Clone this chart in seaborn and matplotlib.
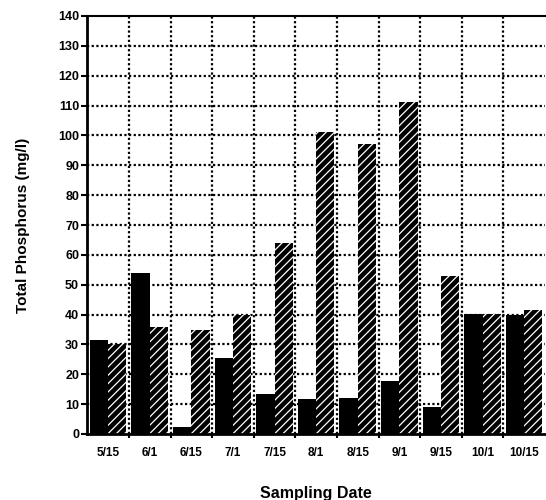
import pandas as pd
import matplotlib.pyplot as plt
import seaborn as sns

# Dados
datas = ['5/15', '6/1', '6/15', '7/1', '7/15', '8/1', '8/15', '9/1', '9/15', '10/1', '10/15']
serie_solida = [31.5, 54, 2.5, 25.5, 13.3, 11.7, 12.1, 17.6, 9.1, 40.2, 39.8]
serie_hachurada = [30, 35.7, 34.8, 39.8, 64.1, 101.3, 97, 111.3, 52.8, 40.3, 41.5]

df = pd.DataFrame({
    'Data': datas * 2,
    'Valor': serie_solida + serie_hachurada,
    'Serie': ['solida'] * len(datas) + ['hachurada'] * len(datas),
})

sns.set_style('white')
plt.rcParams['font.family'] = ['Liberation Sans', 'DejaVu Sans']
plt.rcParams['hatch.linewidth'] = 0.9
plt.rcParams['text.color'] = 'black'
plt.rcParams['axes.labelcolor'] = 'black'

fig = plt.figure(figsize=(5.46, 5.0), dpi=100)
ax = fig.add_axes([0.16, 0.132, 0.838, 0.836])

sns.barplot(data=df, x='Data', y='Valor', hue='Serie', order=datas,
            hue_order=['solida', 'hachurada'], palette=['black', 'black'],
            width=0.88, saturation=1, legend=False, ax=ax)

n = len(datas)
for i, p in enumerate(ax.patches):
    p.set_linewidth(0)
    if i >= n:
        p.set_hatch('////')
        p.set_edgecolor('white')

# Eixos e grade
ax.set_ylim(0, 140)
ax.set_xlim(-0.5, n - 0.5)
ax.set_yticks(range(0, 141, 10))
ax.set_xticks(range(n))
ax.set_xticklabels(datas)
ax.set_xticks([i - 0.5 for i in range(1, n)], minor=True)

ax.grid(False)
ax.set_axisbelow(True)
for y in range(10, 140, 10):
    ax.axhline(y, color='black', linestyle=(0, (1, 1.1)), linewidth=1.6, zorder=0)
for x in range(1, n):
    ax.axvline(x - 0.5, color='black', linestyle=(0, (1, 1.1)), linewidth=1.6, zorder=0)

for s in ['left', 'bottom']:
    ax.spines[s].set_linewidth(2)
    ax.spines[s].set_color('black')
ax.spines['top'].set_linewidth(1.5)
ax.spines['top'].set_color('black')
ax.spines['right'].set_visible(False)

ax.tick_params(axis='y', which='major', length=4, width=1.5, direction='out',
               labelsize=9, pad=2, left=True, colors='black')
ax.tick_params(axis='x', which='major', length=0, labelsize=8.5, pad=9, colors='black')
ax.tick_params(axis='x', which='minor', length=3, width=1.5, direction='out', bottom=True,
               colors='black')
for lab in ax.get_xticklabels() + ax.get_yticklabels():
    lab.set_fontweight('bold')

ax.set_xlabel('Sampling Date', fontsize=11.5, fontweight='bold')
ax.set_ylabel('Total Phosphorus (mg/l)', fontsize=11, fontweight='bold')
ax.yaxis.set_label_coords(-0.125, 0.5)
ax.xaxis.set_label_coords(0.5, -0.125)

fig.savefig('out.png', dpi=100)
